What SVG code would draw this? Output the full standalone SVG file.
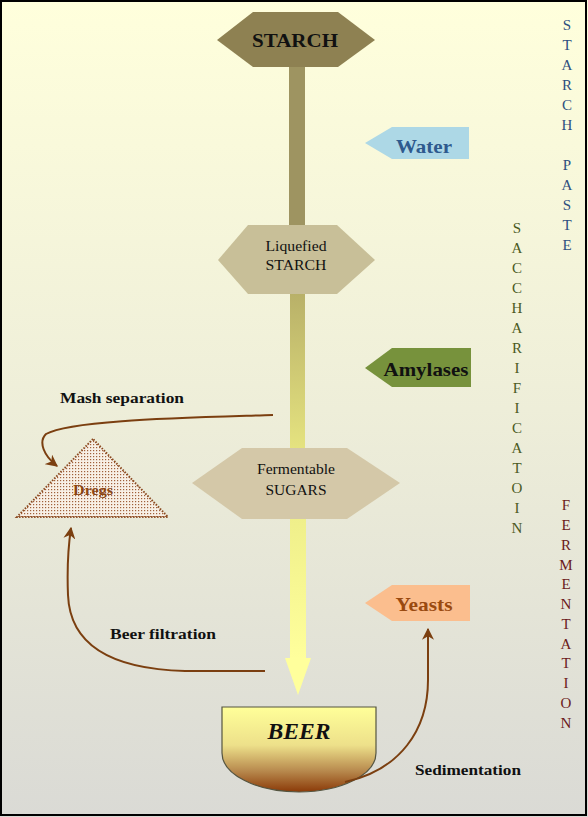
<svg xmlns="http://www.w3.org/2000/svg" width="588" height="817" viewBox="0 0 588 817">
<defs>
<linearGradient id="bg" x1="0" y1="0" x2="0" y2="1">
<stop offset="0" stop-color="#FFFFDC"/>
<stop offset="0.5" stop-color="#EEEED9"/>
<stop offset="1" stop-color="#DADAD5"/>
</linearGradient>
<linearGradient id="stem2" x1="0" y1="0" x2="0" y2="1">
<stop offset="0" stop-color="#B8B068"/>
<stop offset="1" stop-color="#E6E480"/>
</linearGradient>
<linearGradient id="stem3" x1="0" y1="0" x2="0" y2="1">
<stop offset="0" stop-color="#EFEF8A"/>
<stop offset="1" stop-color="#FFFF9C"/>
</linearGradient>
<linearGradient id="beer" x1="0" y1="0" x2="0" y2="1">
<stop offset="0" stop-color="#FFFF99"/>
<stop offset="0.45" stop-color="#EDE08A"/>
<stop offset="0.75" stop-color="#B88A4E"/>
<stop offset="1" stop-color="#8B3A08"/>
</linearGradient>
<pattern id="dots" width="3" height="3" patternUnits="userSpaceOnUse">
<rect width="3" height="3" fill="#F8F0E6"/>
<rect x="0" y="0" width="1.2" height="1.2" fill="#A0603A"/>
</pattern>
<marker id="ah" viewBox="0 0 10 10" refX="9" refY="5" markerWidth="6" markerHeight="6" orient="auto" markerUnits="strokeWidth">
<path d="M0,0 L10,5 L0,10 L3,5 Z" fill="#7B3F10"/>
</marker>
<style>
.hx{font-family:"Liberation Serif",serif;fill:#111;text-anchor:middle;}
.lbl{font-family:"Liberation Serif",serif;font-weight:bold;font-size:19px;text-anchor:middle;}
.cap{font-family:"Liberation Serif",serif;font-weight:bold;font-size:15px;fill:#111;}
.v{font-family:"Liberation Serif",serif;font-size:15px;text-anchor:middle;}
.con{fill:none;stroke:#7B3F10;stroke-width:2;}
</style>
</defs>
<rect x="0" y="0" width="588" height="817" fill="url(#bg)"/>
<rect x="1" y="1" width="585" height="814" fill="none" stroke="#000" stroke-width="2"/>

<g id="stem">
<rect x="289" y="62" width="16" height="166" fill="#9E9461"/>
<rect x="290" y="292" width="15" height="160" fill="url(#stem2)"/>
<rect x="290" y="517" width="16" height="142" fill="url(#stem3)"/>
<path d="M285,658 L311,658 L298,695 Z" fill="#FFFF9C"/>
</g>

<g id="starch">
<polygon points="217,40 253,12 338,12 375,40 338,67 253,67" fill="#8E8152"/>
<text x="295" y="47" class="hx" font-size="19" font-weight="bold" fill="#1a1a1a" textLength="86" lengthAdjust="spacingAndGlyphs">STARCH</text>
</g>

<g id="liquefied">
<polygon points="218,260 248,225 337,225 375,260 337,294 248,294" fill="#C8BF98"/>
<text x="296" y="251" class="hx" font-size="14" textLength="61" lengthAdjust="spacingAndGlyphs">Liquefied</text>
<text x="296" y="270" class="hx" font-size="14" textLength="61" lengthAdjust="spacingAndGlyphs">STARCH</text>
</g>

<g id="sugars">
<polygon points="192,483 242,448 347,448 400,483 347,519 242,519" fill="#D4C8A8"/>
<text x="296" y="474" class="hx" font-size="14.5" textLength="78" lengthAdjust="spacingAndGlyphs">Fermentable</text>
<text x="296" y="495" class="hx" font-size="14.5" textLength="61" lengthAdjust="spacingAndGlyphs">SUGARS</text>
</g>

<g id="water">
<polygon points="365,143 392,127 469,127 469,159 392,159" fill="#ADD8E6"/>
<text x="424" y="153" class="lbl" fill="#2E5A8E" textLength="56" lengthAdjust="spacingAndGlyphs">Water</text>
</g>

<g id="amylases">
<polygon points="365,368 392,348 471,348 471,387 392,387" fill="#77923C"/>
<text x="426" y="376" class="lbl" fill="#111" textLength="85" lengthAdjust="spacingAndGlyphs">Amylases</text>
</g>

<g id="yeasts">
<polygon points="365,603 392,585 470,585 470,621 392,621" fill="#FBBE8E"/>
<text x="424" y="611" class="lbl" fill="#9A4A10" textLength="57" lengthAdjust="spacingAndGlyphs">Yeasts</text>
</g>

<g id="dregs">
<polygon points="93,439 17,517 168,517" fill="url(#dots)" stroke="#8B4A20" stroke-width="2" stroke-dasharray="1.5,1.5"/>
<text x="93" y="495" font-family="Liberation Serif,serif" font-weight="bold" font-size="14" fill="#8B4513" text-anchor="middle" textLength="40" lengthAdjust="spacingAndGlyphs">Dregs</text>
</g>

<g id="beer-bowl">
<path d="M222,707 H376 V753 A77,39 0 0 1 222,753 Z" fill="url(#beer)" stroke="#555540" stroke-width="1.2"/>
<text x="299" y="739" font-family="Liberation Serif,serif" font-weight="bold" font-style="italic" font-size="23" fill="#111" text-anchor="middle" textLength="63" lengthAdjust="spacingAndGlyphs">BEER</text>
</g>

<g id="connectors">
<path class="con" d="M273,415 C180,418 70,420 46,434 C38,442 44,456 57,466" marker-end="url(#ah)"/>
<path class="con" d="M265,671 L185,671 C110,669 70,645 68,595 C67,570 68,548 71,528" marker-end="url(#ah)"/>
<path class="con" d="M345,782 C400,770 428,730 428,680 L428,629" marker-end="url(#ah)"/>
</g>

<g id="labels">
<text x="60" y="403" class="cap" textLength="124" lengthAdjust="spacingAndGlyphs">Mash separation</text>
<text x="110" y="639" class="cap" textLength="106" lengthAdjust="spacingAndGlyphs">Beer filtration</text>
<text x="415" y="775" class="cap" textLength="106" lengthAdjust="spacingAndGlyphs">Sedimentation</text>
</g>

<g id="side-starch-paste" fill="#2F4F7F">
<text class="v" x="567" y="30">S</text>
<text class="v" x="567" y="50">T</text>
<text class="v" x="567" y="70">A</text>
<text class="v" x="567" y="90">R</text>
<text class="v" x="567" y="110">C</text>
<text class="v" x="567" y="130">H</text>
<text class="v" x="567" y="170">P</text>
<text class="v" x="567" y="190">A</text>
<text class="v" x="567" y="210">S</text>
<text class="v" x="567" y="230">T</text>
<text class="v" x="567" y="250">E</text>
</g>

<g id="side-saccharification" fill="#4B5A1E">
<text class="v" x="517" y="233">S</text>
<text class="v" x="517" y="253">A</text>
<text class="v" x="517" y="273">C</text>
<text class="v" x="517" y="293">C</text>
<text class="v" x="517" y="313">H</text>
<text class="v" x="517" y="333">A</text>
<text class="v" x="517" y="353">R</text>
<text class="v" x="517" y="373">I</text>
<text class="v" x="517" y="393">F</text>
<text class="v" x="517" y="413">I</text>
<text class="v" x="517" y="433">C</text>
<text class="v" x="517" y="453">A</text>
<text class="v" x="517" y="473">T</text>
<text class="v" x="517" y="493">O</text>
<text class="v" x="517" y="513">I</text>
<text class="v" x="517" y="533">N</text>
</g>

<g id="side-fermentation" fill="#6B1A1A">
<text class="v" x="566" y="510">F</text>
<text class="v" x="566" y="530">E</text>
<text class="v" x="566" y="550">R</text>
<text class="v" x="566" y="570">M</text>
<text class="v" x="566" y="589">E</text>
<text class="v" x="566" y="609">N</text>
<text class="v" x="566" y="629">T</text>
<text class="v" x="566" y="649">A</text>
<text class="v" x="566" y="668">T</text>
<text class="v" x="566" y="688">I</text>
<text class="v" x="566" y="708">O</text>
<text class="v" x="566" y="728">N</text>
</g>
</svg>
